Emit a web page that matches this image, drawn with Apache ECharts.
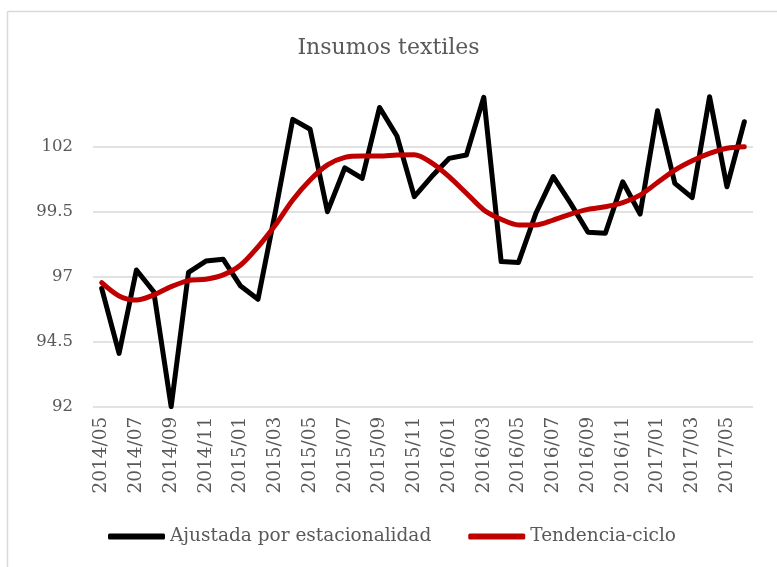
<!DOCTYPE html>
<html>
<head>
<meta charset="utf-8">
<script src="https://cdn.jsdelivr.net/npm/echarts@6/dist/echarts.min.js"></script>
<style>
  html, body { margin: 0; padding: 0; background: #fff; }
  #chart { width: 777px; height: 567px; }
</style>
</head>
<body>
<div id="chart"></div>
<script>
// months 2014/05 .. 2017/06
var months = [
  '2014/05','2014/06','2014/07','2014/08','2014/09','2014/10','2014/11','2014/12',
  '2015/01','2015/02','2015/03','2015/04','2015/05','2015/06','2015/07','2015/08',
  '2015/09','2015/10','2015/11','2015/12','2016/01','2016/02','2016/03','2016/04',
  '2016/05','2016/06','2016/07','2016/08','2016/09','2016/10','2016/11','2016/12',
  '2017/01','2017/02','2017/03','2017/04','2017/05','2017/06'
];
var ajustada = [
  96.55, 94.05, 97.26, 96.42, 92.0, 97.17, 97.6, 97.67,
  96.64, 96.13, 99.5, 103.05, 102.67, 99.5, 101.19, 100.78,
  103.51, 102.41, 100.08, 100.85, 101.55, 101.68, 103.9, 97.58,
  97.55, 99.44, 100.85, 99.82, 98.71, 98.67, 100.65, 99.41,
  103.38, 100.59, 100.04, 103.92, 100.46, 102.96
];
var tendencia = [
  96.77, 96.26, 96.1, 96.3, 96.62, 96.85, 96.9, 97.07,
  97.45, 98.15, 98.99, 99.95, 100.72, 101.3, 101.59, 101.64,
  101.64, 101.68, 101.69, 101.38, 100.85, 100.21, 99.57, 99.21,
  98.99, 98.99, 99.18, 99.41, 99.59, 99.69, 99.85, 100.14,
  100.62, 101.1, 101.46, 101.74, 101.94, 102.0
];

var font = 'DejaVu Serif';
var gray = '#595959';

var chart = echarts.init(document.getElementById('chart'));
chart.setOption({
  animation: false,
  backgroundColor: '#fff',
  title: {
    text: 'Insumos textiles',
    left: 'center',
    top: 32,
    textStyle: { fontFamily: font, fontSize: 22, fontWeight: 'normal', color: gray }
  },
  graphic: [
    { type: 'line', shape: { x1: 7.5, y1: 11.5, x2: 777, y2: 11.5 }, style: { stroke: '#d9d9d9', lineWidth: 1.5 } },
    { type: 'line', shape: { x1: 7.5, y1: 11.5, x2: 7.5, y2: 567 }, style: { stroke: '#d9d9d9', lineWidth: 1.5 } }
  ],
  legend: {
    left: 103,
    top: 522,
    itemGap: 37,
    itemWidth: 57,
    itemHeight: 6,
    icon: 'roundRect',
    textStyle: { fontFamily: font, fontSize: 18.5, color: gray },
    data: ['Ajustada por estacionalidad', 'Tendencia-ciclo']
  },
  grid: { left: 93, right: 24, top: 81.7, bottom: 160.3 },
  xAxis: {
    type: 'category',
    data: months,
    boundaryGap: true,
    axisLine: { show: false },
    axisTick: { show: false },
    axisLabel: {
      interval: 1,
      rotate: 90,
      margin: 10,
      fontFamily: font,
      fontSize: 18.5,
      color: gray
    }
  },
  yAxis: {
    type: 'value',
    min: 92,
    max: 104.5,
    interval: 2.5,
    axisLine: { show: false },
    axisTick: { show: false },
    axisLabel: {
      showMaxLabel: false,
      margin: 20,
      fontFamily: font,
      fontSize: 16.5,
      color: gray
    },
    splitLine: { showMaxLine: false, lineStyle: { color: '#d9d9d9', width: 1.5 } }
  },
  series: [
    {
      name: 'Ajustada por estacionalidad',
      type: 'line',
      data: ajustada,
      symbol: 'none',
      itemStyle: { color: '#000000' },
      lineStyle: { color: '#000000', width: 5, cap: 'round', join: 'round' }
    },
    {
      name: 'Tendencia-ciclo',
      type: 'line',
      data: tendencia,
      symbol: 'none',
      smooth: 0.3,
      itemStyle: { color: '#c00000' },
      lineStyle: { color: '#c00000', width: 5, cap: 'round', join: 'round' }
    }
  ]
});
</script>
</body>
</html>
